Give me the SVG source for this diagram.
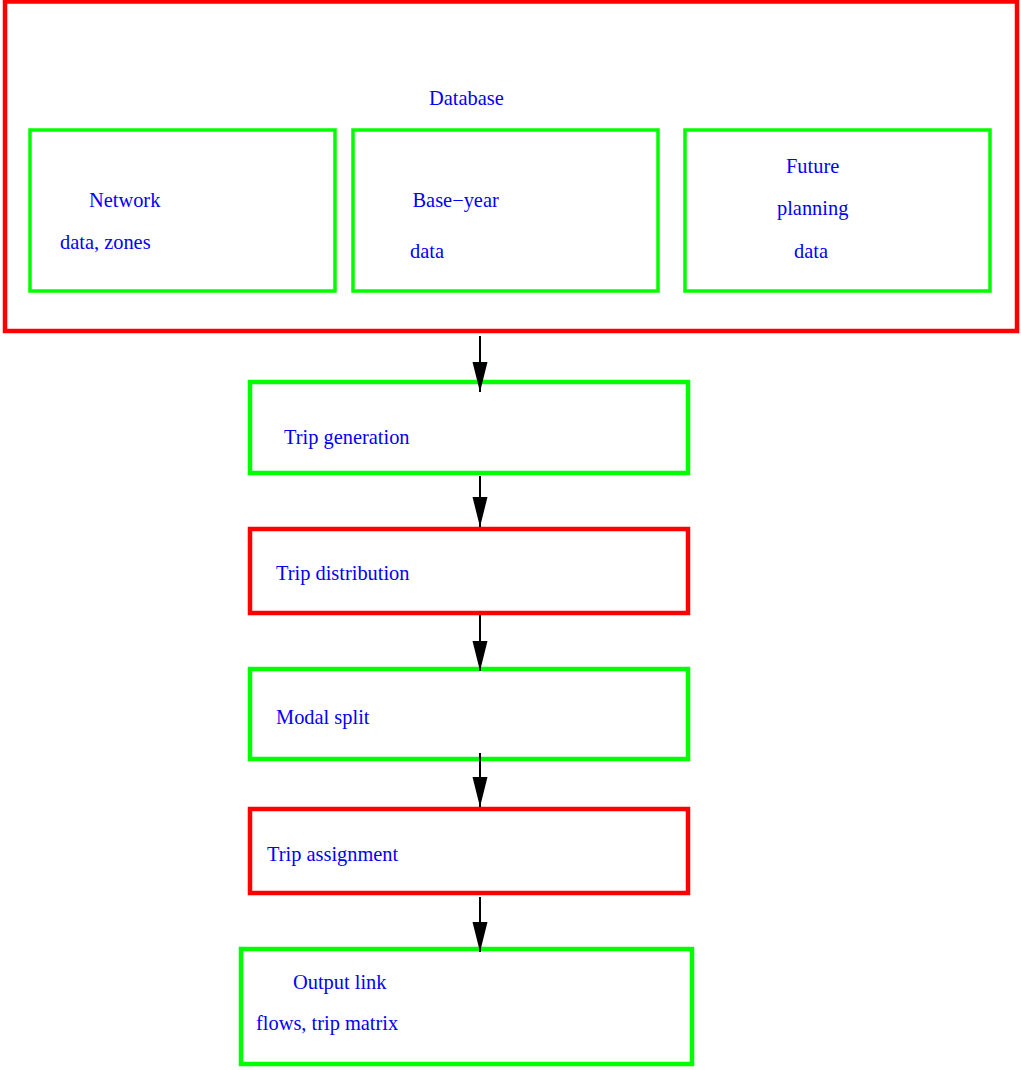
<svg xmlns="http://www.w3.org/2000/svg" width="1021" height="1070" viewBox="0 0 1021 1070">
<defs>
<style>
.red{fill:none;stroke:#ff0000;stroke-width:4.5}
.grn{fill:none;stroke:#00ff00;stroke-width:4.5}
.sub{fill:none;stroke:#00ff00;stroke-width:3.5}
text{font-family:"Liberation Serif","Times New Roman",serif;font-size:20.4px;fill:#0000ff}
.edge{stroke:#000;stroke-width:2;fill:none}
</style>
<marker id="ah" markerUnits="userSpaceOnUse" markerWidth="30" markerHeight="16" refX="30" refY="8" orient="auto">
<path d="M0,0.5 L30,8 L0,15.5 z" fill="#000"/>
</marker>
</defs>
<rect width="1021" height="1070" fill="#fff"/>
<g id="database">
<rect class="red" x="5" y="1.5" width="1012" height="329.5"/>
<text x="429" y="104.5">Database</text>
</g>
<g id="network">
<rect class="sub" x="30" y="130" width="305" height="161"/>
<text x="89" y="206.5">Network</text>
<text x="60" y="248.5">data, zones</text>
</g>
<g id="baseyear">
<rect class="sub" x="353" y="130" width="305" height="161"/>
<text x="412.5" y="206.5">Base−year</text>
<text x="410" y="257.5">data</text>
</g>
<g id="future">
<rect class="sub" x="685" y="130" width="305" height="161"/>
<text x="786" y="172.5">Future</text>
<text x="777" y="214.5">planning</text>
<text x="794" y="257.5">data</text>
</g>
<g id="tripgen">
<rect class="grn" x="250" y="382" width="438" height="91"/>
<text x="284" y="444">Trip generation</text>
</g>
<g id="tripdist">
<rect class="red" x="250" y="529" width="438" height="84"/>
<text x="276" y="580">Trip distribution</text>
</g>
<g id="modal">
<rect class="grn" x="250" y="669" width="438" height="90"/>
<text x="276" y="724">Modal split</text>
</g>
<g id="assign">
<rect class="red" x="250" y="809" width="438" height="84"/>
<text x="267" y="861">Trip assignment</text>
</g>
<g id="output">
<rect class="grn" x="241" y="949" width="451" height="115"/>
<text x="293" y="989">Output link</text>
<text x="256" y="1030">flows, trip matrix</text>
</g>
<g id="connectors">
<line class="edge" x1="480" y1="336" x2="480" y2="392" marker-end="url(#ah)"/>
<line class="edge" x1="480" y1="476" x2="480" y2="527" marker-end="url(#ah)"/>
<line class="edge" x1="480" y1="615" x2="480" y2="671" marker-end="url(#ah)"/>
<line class="edge" x1="480" y1="753" x2="480" y2="807" marker-end="url(#ah)"/>
<line class="edge" x1="480" y1="897" x2="480" y2="952" marker-end="url(#ah)"/>
</g>
</svg>
